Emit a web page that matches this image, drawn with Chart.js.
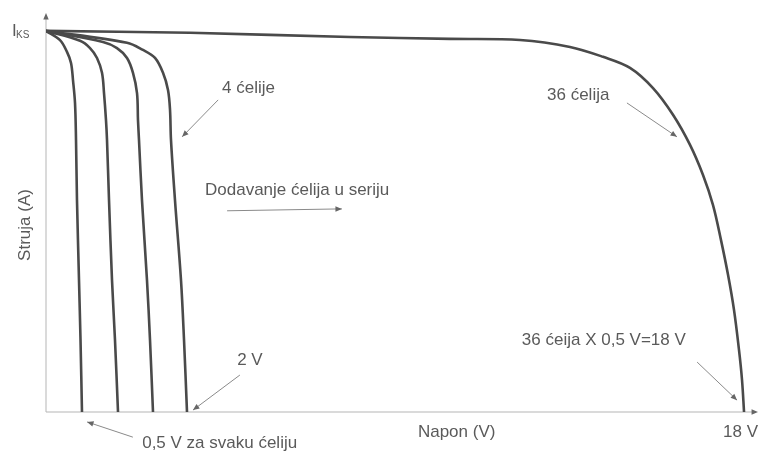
<!DOCTYPE html>
<html>
<head>
<meta charset="utf-8">
<script src="https://cdn.jsdelivr.net/npm/chart.js@4/dist/chart.umd.min.js"></script>
<style>
  html, body { margin: 0; padding: 0; background: #fff; }
  #wrap { width: 759px; height: 454px; }
</style>
</head>
<body>
<div id="wrap"><canvas id="ivChart" width="759" height="454"></canvas></div>
<script>
// ===================== DATA =====================
// Napon (V) / relative struja (I / Iks), one pair of arrays per curve
const cell1V  = [0, 0.361, 0.541, 0.645, 0.696, 0.748, 0.774, 0.799, 0.851, 0.890, 0.928];
const cell1I  = [1, 0.976, 0.945, 0.916, 0.871, 0.811, 0.714, 0.556, 0.346, 0.189, 0];
const cell2V  = [0, 0.877, 1.135, 1.315, 1.444, 1.496, 1.547, 1.573, 1.625, 1.702, 1.779, 1.857];
const cell2I  = [1, 0.974, 0.955, 0.929, 0.890, 0.837, 0.766, 0.714, 0.556, 0.346, 0.189, 0];
const cell3V  = [0, 1.470, 1.831, 2.089, 2.243, 2.347, 2.372, 2.398, 2.475, 2.604, 2.682, 2.759];
const cell3I  = [1, 0.971, 0.955, 0.929, 0.890, 0.837, 0.766, 0.714, 0.556, 0.346, 0.189, 0];
const cell4V  = [0, 2.089, 2.501, 2.811, 3.017, 3.146, 3.198, 3.223, 3.326, 3.481, 3.559, 3.636];
const cell4I  = [1, 0.969, 0.950, 0.929, 0.890, 0.845, 0.793, 0.714, 0.556, 0.346, 0.189, 0];
const cell36V = [0, 3.713, 7.839, 10.418, 12.223, 13.512, 14.363, 15.059, 15.653, 16.168, 16.607,
                 16.942, 17.200, 17.406, 17.587, 17.741, 17.870, 17.948, 18.0];
const cell36I = [1, 0.995, 0.984, 0.979, 0.976, 0.958, 0.932, 0.903, 0.850, 0.780, 0.701,
                 0.622, 0.543, 0.451, 0.360, 0.268, 0.163, 0.084, 0];

const xMax = 18.36;
const yMax = 1.047;

// annotation texts with anchor (V, I) and arrows [fromV, fromI, toV, toI]
const noteTexts  = ['4 ćelije', '36 ćelija', 'Dodavanje ćelija u seriju', '2 V', '0,5 V za svaku ćeliju', '36 ćeija X 0,5 V=18 V', 'Napon (V)', '18 V'];
const noteV      = [4.54, 12.92, 4.10, 4.93, 2.48, 12.27, 9.59, 17.46];
const noteI      = [0.850, 0.832, 0.583, 0.136, -0.081, 0.189, -0.052, -0.052];
const arrows = [
    [4.44, 0.819, 3.51, 0.722],
    [14.98, 0.811, 16.27, 0.722],
    [4.67, 0.528, 7.63, 0.533],
    [5.00, 0.097, 3.79, 0.005],
    [2.24, -0.066, 1.06, -0.026],
    [16.79, 0.131, 17.82, 0.031]
];

function toPoints(vs, is) {
    return vs.map((v, i) => ({ x: v, y: is[i] }));
}

const curveStyle = {
    borderColor: '#4a4a4a',
    borderWidth: 2.6,
    pointRadius: 0,
    showLine: true,
    fill: false,
    tension: 0.35
};

const FONT = '"Liberation Sans", Arial, sans-serif';

function arrowHead(ctx, x1, y1, x2, y2, size) {
    const ang = Math.atan2(y2 - y1, x2 - x1);
    ctx.beginPath();
    ctx.moveTo(x2, y2);
    ctx.lineTo(x2 - size * Math.cos(ang - 0.4), y2 - size * Math.sin(ang - 0.4));
    ctx.lineTo(x2 - size * Math.cos(ang + 0.4), y2 - size * Math.sin(ang + 0.4));
    ctx.closePath();
    ctx.fill();
}

// draws axes with arrows plus all the text notes
const decorPlugin = {
    id: 'decor',
    beforeDatasetsDraw(chart) {
        const { ctx, chartArea: a } = chart;
        ctx.save();
        ctx.strokeStyle = '#b5b5b5';
        ctx.fillStyle = '#666';
        ctx.lineWidth = 1;
        ctx.beginPath();
        ctx.moveTo(a.left, a.bottom);
        ctx.lineTo(a.right - 2, a.bottom);
        ctx.moveTo(a.left, a.bottom);
        ctx.lineTo(a.left, a.top + 2);
        ctx.stroke();
        arrowHead(ctx, a.right - 10, a.bottom, a.right, a.bottom, 7);
        arrowHead(ctx, a.left, a.top + 10, a.left, a.top, 7);
        ctx.restore();
    },
    afterDraw(chart) {
        const { ctx } = chart;
        const xs = chart.scales.x, ys = chart.scales.y;
        ctx.save();
        ctx.fillStyle = '#5a5a5a';
        ctx.font = '17px ' + FONT;
        ctx.textBaseline = 'middle';
        noteTexts.forEach((t, i) => {
            ctx.fillText(t, xs.getPixelForValue(noteV[i]), ys.getPixelForValue(noteI[i]));
        });

        // arrows
        ctx.strokeStyle = '#8a8a8a';
        ctx.fillStyle = '#666';
        ctx.lineWidth = 1;
        arrows.forEach(r => {
            const x1 = xs.getPixelForValue(r[0]), y1 = ys.getPixelForValue(r[1]);
            const x2 = xs.getPixelForValue(r[2]), y2 = ys.getPixelForValue(r[3]);
            ctx.beginPath();
            ctx.moveTo(x1, y1);
            ctx.lineTo(x2, y2);
            ctx.stroke();
            arrowHead(ctx, x1, y1, x2, y2, 7);
        });

        // I_KS label
        ctx.fillStyle = '#5a5a5a';
        const iy = ys.getPixelForValue(1);
        ctx.font = '17px ' + FONT;
        ctx.fillText('I', 12, iy);
        ctx.font = '10px ' + FONT;
        ctx.fillText('KS', 16, iy + 4);

        // y axis title
        ctx.font = '17px ' + FONT;
        ctx.translate(25, 225);
        ctx.rotate(-Math.PI / 2);
        ctx.textAlign = 'center';
        ctx.fillText('Struja (A)', 0, 0);
        ctx.restore();
    }
};

new Chart(document.getElementById('ivChart'), {
    type: 'scatter',
    data: {
        datasets: [
            { ...curveStyle, label: '1 ćelija', data: toPoints(cell1V, cell1I) },
            { ...curveStyle, label: '2 ćelije', data: toPoints(cell2V, cell2I) },
            { ...curveStyle, label: '3 ćelije', data: toPoints(cell3V, cell3I) },
            { ...curveStyle, label: '4 ćelije', data: toPoints(cell4V, cell4I) },
            { ...curveStyle, label: '36 ćelija', data: toPoints(cell36V, cell36I) }
        ]
    },
    options: {
        responsive: false,
        animation: false,
        layout: { padding: { left: 46, right: 1, top: 13, bottom: 42 } },
        plugins: {
            legend: { display: false },
            tooltip: { enabled: false }
        },
        scales: {
            x: { type: 'linear', min: 0, max: xMax, display: false },
            y: { type: 'linear', min: 0, max: yMax, display: false }
        }
    },
    plugins: [decorPlugin]
});
</script>
</body>
</html>
